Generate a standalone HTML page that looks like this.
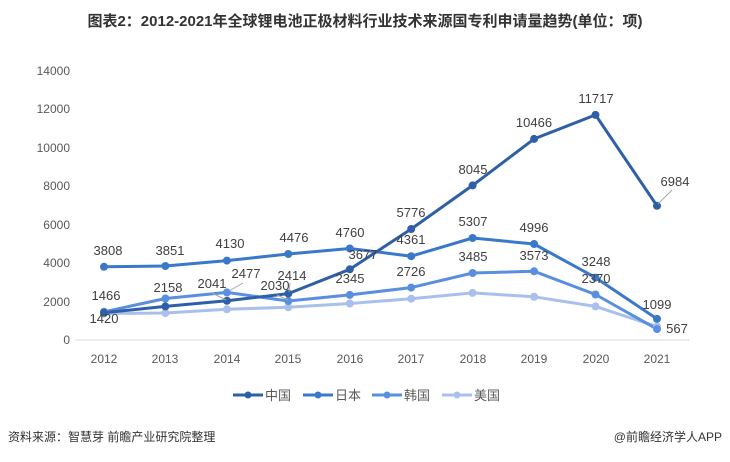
<!DOCTYPE html><html><head><meta charset="utf-8"><style>body{margin:0;background:#fff}svg text{font-family:"Liberation Sans","Noto Sans CJK SC",sans-serif}</style></head><body>
<svg width="730" height="457" viewBox="0 0 730 457" xmlns="http://www.w3.org/2000/svg">
<text x="365" y="26" text-anchor="middle" font-size="15" font-weight="bold" fill="#333">图表2：2012-2021年全球锂电池正极材料行业技术来源国专利申请量趋势(单位：项)</text>
<g font-size="12" fill="#595959" text-anchor="end">
<text x="70" y="344">0</text><text x="70" y="306">2000</text><text x="70" y="267">4000</text><text x="70" y="229">6000</text><text x="70" y="190">8000</text><text x="70" y="152">10000</text><text x="70" y="113">12000</text><text x="70" y="75">14000</text></g>
<line x1="75" y1="340" x2="690" y2="340" stroke="#d9d9d9"/>
<g font-size="12" fill="#595959" text-anchor="middle">
<text x="104" y="363">2012</text><text x="165" y="363">2013</text><text x="227" y="363">2014</text><text x="288" y="363">2015</text><text x="350" y="363">2016</text><text x="411" y="363">2017</text><text x="473" y="363">2018</text><text x="534" y="363">2019</text><text x="596" y="363">2020</text><text x="657" y="363">2021</text></g>
<g fill="none" stroke-width="3" stroke-linejoin="round">
<polyline stroke="#a9c0ec" points="104,313.5 165.4,313 226.9,309.3 288.3,307.3 349.8,303.5 411.2,298.7 472.6,292.9 534.1,296.8 595.5,306.4 657,326.6"/>
<polyline stroke="#5a8fe0" points="104,311.8 165.4,298.5 226.9,292.4 288.3,301 349.8,294.9 411.2,287.6 472.6,273 534.1,271.3 595.5,294.5 657,329.1"/>
<polyline stroke="#3a78c9" points="104,266.8 165.4,266 226.9,260.6 288.3,254 349.8,248.5 411.2,256.2 472.6,238 534.1,244 595.5,277.6 657,318.9"/>
<polyline stroke="#2f5fa7" points="104,312.7 165.4,306.4 226.9,300.8 288.3,293.6 349.8,269.3 411.2,229 472.6,185.4 534.1,138.9 595.5,114.9 657,205.8"/>
</g>
<g fill="#a9c0ec"><circle cx="104" cy="313.5" r="4"/><circle cx="165.4" cy="313" r="4"/><circle cx="226.9" cy="309.3" r="4"/><circle cx="288.3" cy="307.3" r="4"/><circle cx="349.8" cy="303.5" r="4"/><circle cx="411.2" cy="298.7" r="4"/><circle cx="472.6" cy="292.9" r="4"/><circle cx="534.1" cy="296.8" r="4"/><circle cx="595.5" cy="306.4" r="4"/><circle cx="657" cy="326.6" r="4"/></g>
<g fill="#5a8fe0"><circle cx="104" cy="311.8" r="4"/><circle cx="165.4" cy="298.5" r="4"/><circle cx="226.9" cy="292.4" r="4"/><circle cx="288.3" cy="301" r="4"/><circle cx="349.8" cy="294.9" r="4"/><circle cx="411.2" cy="287.6" r="4"/><circle cx="472.6" cy="273" r="4"/><circle cx="534.1" cy="271.3" r="4"/><circle cx="595.5" cy="294.5" r="4"/><circle cx="657" cy="329.1" r="4"/></g>
<g fill="#3a78c9"><circle cx="104" cy="266.8" r="4"/><circle cx="165.4" cy="266" r="4"/><circle cx="226.9" cy="260.6" r="4"/><circle cx="288.3" cy="254" r="4"/><circle cx="349.8" cy="248.5" r="4"/><circle cx="411.2" cy="256.2" r="4"/><circle cx="472.6" cy="238" r="4"/><circle cx="534.1" cy="244" r="4"/><circle cx="595.5" cy="277.6" r="4"/><circle cx="657" cy="318.9" r="4"/></g>
<g fill="#2f5fa7"><circle cx="104" cy="312.7" r="4"/><circle cx="165.4" cy="306.4" r="4"/><circle cx="226.9" cy="300.8" r="4"/><circle cx="288.3" cy="293.6" r="4"/><circle cx="349.8" cy="269.3" r="4"/><circle cx="411.2" cy="229" r="4"/><circle cx="472.6" cy="185.4" r="4"/><circle cx="534.1" cy="138.9" r="4"/><circle cx="595.5" cy="114.9" r="4"/><circle cx="657" cy="205.8" r="4"/></g>
<g stroke="#a6a6a6" stroke-width="1"><line x1="212" y1="293" x2="226" y2="300"/><line x1="243" y1="283" x2="229" y2="291"/><line x1="277" y1="295" x2="288" y2="300"/><line x1="290" y1="283" x2="289" y2="292"/><line x1="672" y1="190" x2="658" y2="204"/></g>
<g font-size="13" fill="#404040" text-anchor="middle">
<text x="108" y="255">3808</text><text x="170" y="255">3851</text><text x="230" y="248">4130</text><text x="294" y="242">4476</text><text x="350" y="237">4760</text><text x="411" y="244">4361</text><text x="473" y="226">5307</text><text x="534" y="232">4996</text><text x="596" y="266">3248</text><text x="657" y="309">1099</text>
<text x="106" y="300">1466</text><text x="168" y="292">2158</text><text x="246" y="278">2477</text><text x="292" y="280">2414</text><text x="350" y="283">2345</text><text x="411" y="276">2726</text><text x="473" y="261">3485</text><text x="534" y="260">3573</text><text x="596" y="283">2370</text><text x="677" y="333">567</text>
<text x="104" y="323">1420</text><text x="212" y="288">2041</text><text x="275" y="290">2030</text><text x="363" y="259">3677</text><text x="411" y="217">5776</text><text x="473" y="174">8045</text><text x="534" y="127">10466</text><text x="596" y="103">11717</text><text x="675" y="186">6984</text></g>
<g font-size="13" fill="#595959">
<line x1="233" y1="395" x2="263" y2="395" stroke="#2f5fa7" stroke-width="3"/><circle cx="248" cy="395" r="3.5" fill="#2f5fa7"/><text x="265" y="400">中国</text>
<line x1="303" y1="395" x2="333" y2="395" stroke="#3a78c9" stroke-width="3"/><circle cx="318" cy="395" r="3.5" fill="#3a78c9"/><text x="335" y="400">日本</text>
<line x1="372" y1="395" x2="402" y2="395" stroke="#5a8fe0" stroke-width="3"/><circle cx="387" cy="395" r="3.5" fill="#5a8fe0"/><text x="404" y="400">韩国</text>
<line x1="442" y1="395" x2="472" y2="395" stroke="#a9c0ec" stroke-width="3"/><circle cx="457" cy="395" r="3.5" fill="#a9c0ec"/><text x="474" y="400">美国</text></g>
<text x="8" y="441" font-size="12" fill="#333">资料来源：智慧芽 前瞻产业研究院整理</text>
<text x="722" y="441" font-size="12" fill="#333" text-anchor="end">@前瞻经济学人APP</text>
</svg></body></html>
